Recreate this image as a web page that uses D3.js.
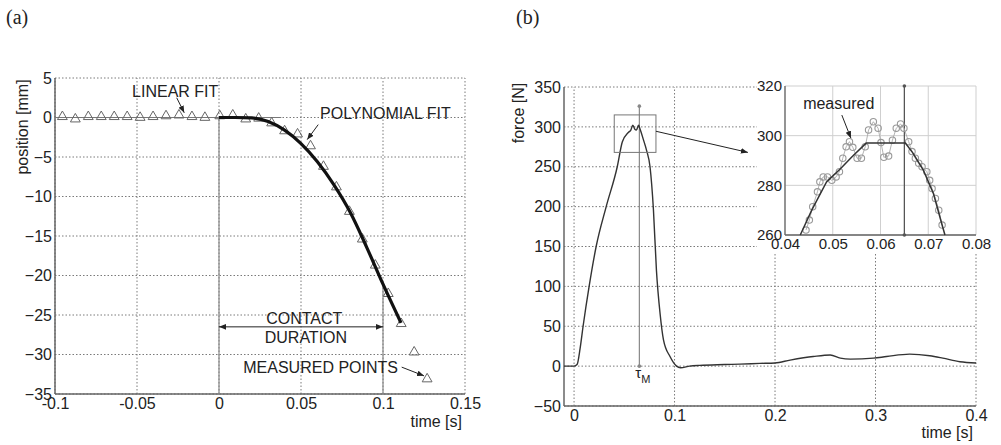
<!DOCTYPE html>
<html><head><meta charset="utf-8">
<script src="https://cdn.jsdelivr.net/npm/d3@7"></script>
<style>
body{margin:0;background:#fff;}
svg text{font-family:"Liberation Sans",Arial,sans-serif;fill:#222;}
</style></head>
<body>
<svg id="c" width="1001" height="445"></svg>
<script>
// ---------- Panel (a) data ----------
const aXTicks = [-0.1, -0.05, 0, 0.05, 0.1, 0.15];
const aXTickLabels = ["-0.1", "-0.05", "0", "0.05", "0.1", "0.15"];
const aYTicks = [5, 0, -5, -10, -15, -20, -25, -30, -35];
const measT = [-0.0955,-0.0876,-0.0797,-0.0718,-0.0639,-0.0560,-0.0481,-0.0402,-0.0323,-0.0244,-0.0165,-0.0086,
  0.0005,0.0084,0.0163,0.0242,0.0321,0.0400,0.0479,0.0558,0.0637,0.0716,0.0795,0.0874,0.0953,0.1032,0.1111,0.1190,0.1269];
const measPos = [0.1,-0.2,0.1,0.1,0.1,0.1,0,0.1,0.2,0.3,0.1,0,
  0.2,0.3,-0.2,-0.1,-0.7,-1.7,-2.1,-3.6,-6.2,-8.8,-11.9,-15.4,-18.7,-22.3,-26.1,-29.7,-33.1];
const linT = [-0.1, 0.038];
const linPos = [0, 0];
const polyT = [0, 0.01, 0.02, 0.03, 0.04, 0.05, 0.06, 0.07, 0.08, 0.09, 0.1, 0.111];
const polyPos = [0, 0, -0.05, -0.5, -1.6, -3.3, -5.6, -8.5, -12.0, -16.4, -21.1, -26.0];

// ---------- Panel (b) data ----------
const bXTicks = [0, 0.1, 0.2, 0.3, 0.4];
const bXTickLabels = ["0", "0.1", "0.2", "0.3", "0.4"];
const bYTicks = [-50, 0, 50, 100, 150, 200, 250, 300, 350];
const forceT = [-0.01,0,0.003,0.006,0.009,0.015,0.022,0.032,0.043,0.048,0.054,0.0565,0.0585,0.0605,0.062,0.0642,0.0655,0.069,0.0723,0.0756,0.079,0.082,0.0856,0.089,0.0955,0.102,0.106,0.115,0.125,0.15,0.165,0.185,0.2,0.215,0.238,0.255,0.265,0.275,0.298,0.311,0.334,0.354,0.367,0.384,0.4];
const forceN = [0,0,2,22,50,100,150,200,250,281,293,296,302,297,296,302,298,284,270,250,196,120,66,33,12,0,-2,0,1,2,2.5,3.4,4,7.5,12,14,10,8.8,10,12,15,13,10,5.5,4];
const tauM = 0.065;
const tauTop = 326;
const zoomBox = {t0: 0.04, t1: 0.0815, f0: 268, f1: 315};

// ---------- Inset data ----------
const insXTicks = [0.04, 0.05, 0.06, 0.07, 0.08];
const insXTickLabels = ["0.04", "0.05", "0.06", "0.07", "0.08"];
const insYTicks = [260, 280, 300, 320];
const insMeasT = [0.0444,0.0451,0.0458,0.0468,0.0473,0.048,0.0489,0.0498,0.0507,0.0514,0.0521,0.0528,0.0535,0.0542,0.0551,0.056,0.0568,0.0575,0.0585,0.0595,0.0601,0.0607,0.0617,0.0625,0.0633,0.0642,0.0649,0.0659,0.0666,0.0673,0.068,0.0687,0.0697,0.0703,0.0708,0.0715,0.0722,0.0729];
const insMeasF = [262,266,271.4,277.4,281.4,283.4,283.4,282,283.4,285.5,290.9,295.5,297.6,295.3,290.9,290.9,295.5,302.3,305.6,303,297.2,291.3,291.8,298.2,303,304.7,303,297.6,293.6,290.9,288.9,287.5,285.5,282,278.7,274.7,270,264];
const insFitT = [0.0432,0.0456,0.0487,0.0515,0.0543,0.057,0.0652,0.0668,0.069,0.0711,0.0729,0.0735];
const insFitF = [260,270,281.4,286.5,292,297,297,293,286,276.6,264,260];

const svg = d3.select("#c");
const GRID = "#7a7a7a", AXIS = "#666";

const defs = svg.append("defs");
defs.append("marker").attr("id","ah").attr("viewBox","0 0 10 10").attr("refX",10).attr("refY",5)
  .attr("markerWidth",7).attr("markerHeight",7).attr("markerUnits","userSpaceOnUse").attr("orient","auto-start-reverse")
  .append("path").attr("d","M0,1 L10,5 L0,9 Z").attr("fill","#222");

function grid(g, x, y, xt, yt, gridDash, col) {
  const [x0,x1] = x.range(), [y0,y1] = y.range();
  g.selectAll(".gx").data(xt).join("line").attr("x1",d=>x(d)).attr("x2",d=>x(d)).attr("y1",y0).attr("y2",y1)
    .attr("stroke",col).attr("stroke-width",1).attr("stroke-dasharray",gridDash);
  g.selectAll(".gy").data(yt).join("line").attr("y1",d=>y(d)).attr("y2",d=>y(d)).attr("x1",x0).attr("x2",x1)
    .attr("stroke",col).attr("stroke-width",1).attr("stroke-dasharray",gridDash);
}
function styleTicks(sel, fs){
  sel.selectAll("text").attr("font-size",fs).attr("fill","#1a1a1a").attr("font-family","Liberation Sans, Arial");
}
function arrow(g, x1,y1,x2,y2, both) {
  const l = g.append("line").attr("x1",x1).attr("y1",y1).attr("x2",x2).attr("y2",y2).attr("stroke","#222").attr("stroke-width",1)
    .attr("marker-end","url(#ah)");
  if (both) l.attr("marker-start","url(#ah)");
}

// ================= Panel (a) =================
const xa = d3.scaleLinear().domain([-0.1, 0.15]).range([55, 465]);
const ya = d3.scaleLinear().domain([-35, 5]).range([394, 78]);
const ga = svg.append("g");
grid(ga, xa, ya, aXTicks, aYTicks, "1.5,2", GRID);
ga.append("line").attr("x1",55).attr("x2",55).attr("y1",78).attr("y2",394).attr("stroke",AXIS).attr("stroke-width",1.5);
ga.append("line").attr("x1",55).attr("x2",465).attr("y1",394).attr("y2",394).attr("stroke",AXIS).attr("stroke-width",1.5);
ga.append("g").attr("transform","translate(0,394)")
  .call(d3.axisBottom(xa).tickValues(aXTicks).tickFormat((d,i)=>aXTickLabels[i]).tickSize(0).tickPadding(4))
  .call(g=>g.select(".domain").remove()).call(s=>styleTicks(s,16));
ga.append("g").attr("transform","translate(55,0)")
  .call(d3.axisLeft(ya).tickValues(aYTicks).tickSize(0).tickPadding(3))
  .call(g=>g.select(".domain").remove()).call(s=>styleTicks(s,16));
ga.append("text").attr("transform","translate(28,127) rotate(-90)").attr("text-anchor","middle").attr("font-size",16).text("position [mm]");
ga.append("text").attr("x",462).attr("y",427).attr("text-anchor","end").attr("font-size",16).text("time [s]");

ga.append("line").attr("x1",xa(0)).attr("x2",xa(0)).attr("y1",ya(0)).attr("y2",ya(-35)).attr("stroke","#888").attr("stroke-width",1.2);
ga.append("line").attr("x1",xa(0.1)).attr("x2",xa(0.1)).attr("y1",ya(-21.1)).attr("y2",ya(-35)).attr("stroke","#888").attr("stroke-width",1.2);

ga.append("path").datum(linT.map((t,i)=>[t,linPos[i]]))
  .attr("d",d3.line().x(d=>xa(d[0])).y(d=>ya(d[1]))).attr("fill","none").attr("stroke","#777").attr("stroke-width",1);
ga.selectAll(".tri").data(measT.map((t,i)=>[t,measPos[i]])).join("path")
  .attr("transform",d=>`translate(${xa(d[0])},${ya(d[1])})`)
  .attr("d",d3.symbol(d3.symbolTriangle,42)).attr("fill","none").attr("stroke","#666").attr("stroke-width",1);
ga.append("path").datum(polyT.map((t,i)=>[t,polyPos[i]]))
  .attr("d",d3.line().curve(d3.curveMonotoneX).x(d=>xa(d[0])).y(d=>ya(d[1]))).attr("fill","none").attr("stroke","#111").attr("stroke-width",3.2);

ga.append("text").attr("x",xa(-0.053)).attr("y",ya(2.6)).attr("font-size",16).text("LINEAR FIT");
arrow(ga, xa(-0.0258), ya(2.5), xa(-0.0212), ya(0.6));
ga.append("text").attr("x",xa(0.0616)).attr("y",ya(-0.2)).attr("font-size",16).text("POLYNOMIAL FIT");
arrow(ga, xa(0.0605), ya(-0.9), xa(0.0538), ya(-2.8));
ga.append("text").attr("x",xa(0.052)).attr("y",ya(-26.2)).attr("text-anchor","middle").attr("font-size",16).text("CONTACT");
ga.append("text").attr("x",xa(0.053)).attr("y",ya(-28.5)).attr("text-anchor","middle").attr("font-size",16).text("DURATION");
arrow(ga, xa(0), ya(-26.5), xa(0.1), ya(-26.5), true);
ga.append("text").attr("x",xa(0.0148)).attr("y",ya(-32.3)).attr("font-size",16).text("MEASURED POINTS");
arrow(ga, xa(0.1114), ya(-31.6), xa(0.125), ya(-32.7));

// ================= Panel (b) =================
const xb = d3.scaleLinear().domain([-0.01, 0.4]).range([564, 976]);
const yb = d3.scaleLinear().domain([-50, 350]).range([406, 87]);
const gb = svg.append("g");
grid(gb, xb, yb, bXTicks, bYTicks, "1.5,2", GRID);
gb.append("line").attr("x1",564).attr("x2",564).attr("y1",87).attr("y2",406).attr("stroke",AXIS).attr("stroke-width",1.5);
gb.append("line").attr("x1",564).attr("x2",976).attr("y1",406).attr("y2",406).attr("stroke",AXIS).attr("stroke-width",1.5);
gb.append("g").attr("transform","translate(0,406)")
  .call(d3.axisBottom(xb).tickValues(bXTicks).tickFormat((d,i)=>bXTickLabels[i]).tickSize(0).tickPadding(4))
  .call(g=>g.select(".domain").remove()).call(s=>styleTicks(s,16));
gb.append("g").attr("transform","translate(564,0)")
  .call(d3.axisLeft(yb).tickValues(bYTicks).tickSize(0).tickPadding(3))
  .call(g=>g.select(".domain").remove()).call(s=>styleTicks(s,16));
gb.append("text").attr("transform","translate(524,113) rotate(-90)").attr("text-anchor","middle").attr("font-size",16).text("force [N]");
gb.append("text").attr("x",973).attr("y",438).attr("text-anchor","end").attr("font-size",16).text("time [s]");

gb.append("line").attr("x1",xb(tauM)).attr("x2",xb(tauM)).attr("y1",yb(0)).attr("y2",yb(tauTop)).attr("stroke","#888").attr("stroke-width",1.2);
gb.selectAll(".td").data([0,tauTop]).join("circle").attr("cx",xb(tauM)).attr("cy",d=>yb(d)).attr("r",1.8).attr("fill","#888");
const tl = gb.append("text").attr("x",xb(tauM)-4).attr("y",yb(-15)).attr("font-size",15);
tl.append("tspan").text("τ");
tl.append("tspan").attr("font-size",11).attr("dy",5).text("M");

gb.append("path").datum(forceT.map((t,i)=>[t,forceN[i]]))
  .attr("d",d3.line().curve(d3.curveMonotoneX).x(d=>xb(d[0])).y(d=>yb(d[1]))).attr("fill","none").attr("stroke","#333").attr("stroke-width",1.4);

gb.append("rect").attr("x",xb(zoomBox.t0)).attr("y",yb(zoomBox.f1)).attr("width",xb(zoomBox.t1)-xb(zoomBox.t0)).attr("height",yb(zoomBox.f0)-yb(zoomBox.f1))
  .attr("fill","none").attr("stroke","#777").attr("stroke-width",1);
arrow(gb, xb(zoomBox.t1), yb(294.5), xb(0.173), yb(268));

// ================= Inset =================
const xi = d3.scaleLinear().domain([0.04, 0.08]).range([785, 976]);
const yi = d3.scaleLinear().domain([260, 320]).range([235, 86]);
const gi = svg.append("g");
gi.append("rect").attr("x",757).attr("y",76).attr("width",232).attr("height",177).attr("fill","#fff");
grid(gi, xi, yi, insXTicks, insYTicks, null, "#cfcfcf");
gi.append("line").attr("x1",785).attr("x2",785).attr("y1",86).attr("y2",235).attr("stroke",AXIS).attr("stroke-width",1.3);
gi.append("line").attr("x1",785).attr("x2",976).attr("y1",235).attr("y2",235).attr("stroke",AXIS).attr("stroke-width",1.3);
gi.append("g").attr("transform","translate(0,235)")
  .call(d3.axisBottom(xi).tickValues(insXTicks).tickFormat((d,i)=>insXTickLabels[i]).tickSize(0).tickPadding(3))
  .call(g=>g.select(".domain").remove()).call(s=>styleTicks(s,15));
gi.append("g").attr("transform","translate(785,0)")
  .call(d3.axisLeft(yi).tickValues(insYTicks).tickSize(0).tickPadding(3))
  .call(g=>g.select(".domain").remove()).call(s=>styleTicks(s,15));
gi.append("line").attr("x1",xi(tauM)).attr("x2",xi(tauM)).attr("y1",yi(320)).attr("y2",yi(260)).attr("stroke","#555").attr("stroke-width",1.3);
gi.selectAll(".td").data([260,320]).join("circle").attr("cx",xi(tauM)).attr("cy",d=>yi(d)).attr("r",1.8).attr("fill","#555");
gi.append("path").datum(insMeasT.map((t,i)=>[t,insMeasF[i]]))
  .attr("d",d3.line().x(d=>xi(d[0])).y(d=>yi(d[1]))).attr("fill","none").attr("stroke","#aaa").attr("stroke-width",0.9);
gi.selectAll(".mc").data(insMeasT.map((t,i)=>[t,insMeasF[i]])).join("circle")
  .attr("cx",d=>xi(d[0])).attr("cy",d=>yi(d[1])).attr("r",3.2).attr("fill","none").attr("stroke","#999").attr("stroke-width",1.1);
gi.append("path").datum(insFitT.map((t,i)=>[t,insFitF[i]]))
  .attr("d",d3.line().x(d=>xi(d[0])).y(d=>yi(d[1]))).attr("fill","none").attr("stroke","#333").attr("stroke-width",1.5);
gi.append("text").attr("x",xi(0.0438)).attr("y",yi(310.9)).attr("font-size",16).text("measured");
arrow(gi, xi(0.0519), yi(308.3), xi(0.0538), yi(299));

svg.append("text").attr("x",6).attr("y",24).attr("font-size",20).style("font-family","Liberation Serif, Times New Roman, serif").text("(a)");
svg.append("text").attr("x",516).attr("y",24).attr("font-size",20).style("font-family","Liberation Serif, Times New Roman, serif").text("(b)");
</script>
</body></html>
